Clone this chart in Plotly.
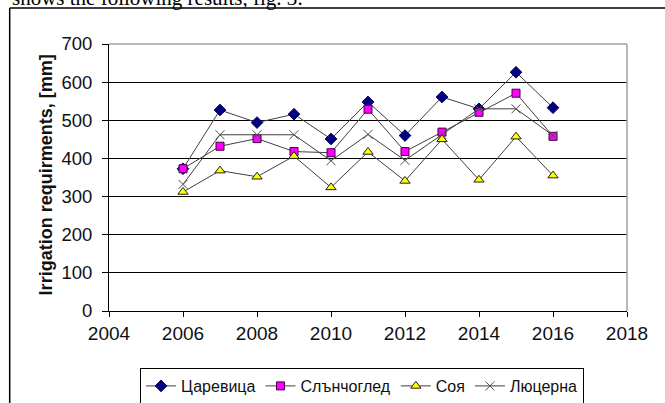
import plotly.graph_objects as go

years = [2006, 2007, 2008, 2009, 2010, 2011, 2012, 2013, 2014, 2015, 2016]
tsarevitsa = [373, 527, 494, 516, 451, 548, 460, 561, 530, 626, 533]
slanchogled = [373, 432, 452, 418, 415, 529, 418, 469, 521, 571, 458]
soya = [312, 368, 352, 406, 324, 417, 341, 450, 344, 457, 355]
lyutserna = [332, 462, 462, 462, 394, 463, 395, 462, 530, 530, 460]

x_ticks = [2004, 2006, 2008, 2010, 2012, 2014, 2016, 2018]
y_ticks = [0, 100, 200, 300, 400, 500, 600, 700]

W, H = 665, 403
L, R, T, B = 108.5, 627.5, 44, 311.5


def px(xp):
    return (xp - L) / (R - L)


def py(yp):
    return (B - yp) / (B - T)


line_col = "#404040"
fig = go.Figure()
fig.add_trace(go.Scatter(
    x=years, y=tsarevitsa, name="Царевица", mode="lines+markers",
    line=dict(color=line_col, width=1),
    marker=dict(symbol="diamond", size=9, color="#000080",
                line=dict(color="#000060", width=1))))
fig.add_trace(go.Scatter(
    x=years, y=slanchogled, name="Слънчоглед", mode="lines+markers",
    line=dict(color=line_col, width=1),
    marker=dict(symbol="square", size=8, color="#FF00FF",
                line=dict(color="#400040", width=1))))
fig.add_trace(go.Scatter(
    x=years, y=soya, name="Соя", mode="lines+markers",
    line=dict(color=line_col, width=1),
    marker=dict(symbol="triangle-up", size=9, color="#FFFF00",
                line=dict(color="#202020", width=1))))
fig.add_trace(go.Scatter(
    x=years, y=lyutserna, name="Люцерна", mode="lines+markers",
    line=dict(color=line_col, width=1),
    marker=dict(symbol="x-thin", size=9, color="#505050",
                line=dict(color="#505050", width=1))))

fig.update_layout(
    width=W, height=H,
    margin=dict(l=L, r=W - R, t=T, b=H - B, pad=0, autoexpand=False),
    paper_bgcolor="white", plot_bgcolor="white",
    font=dict(family="Liberation Sans, Arial, sans-serif", size=19, color="#111"),
    showlegend=True,
    legend=dict(orientation="h", xref="container", yref="container",
                x=362 / W, xanchor="center", y=1 - 368 / H, yanchor="top",
                bordercolor="black", borderwidth=1, font=dict(size=16),
                itemwidth=30, tracegroupgap=0),
    xaxis=dict(range=[2004, 2018], tickvals=x_ticks, ticks="outside", ticklen=5,
               tickcolor="black", showline=True, linecolor="black", linewidth=1,
               showgrid=False, zeroline=False, tickfont=dict(size=19), automargin=False),
    yaxis=dict(range=[0, 700], tickvals=y_ticks, ticks="outside", ticklen=6,
               tickcolor="black", showline=True, linecolor="black", linewidth=1,
               showgrid=True, gridcolor="black", gridwidth=1, zeroline=False,
               tickfont=dict(size=18.5), automargin=False, ticklabelstandoff=6),
    shapes=[
        dict(type="line", xref="paper", yref="paper", x0=0, x1=1, y0=1, y1=1,
             line=dict(color="#a0a0a0", width=1.5)),
        dict(type="line", xref="paper", yref="paper", x0=1, x1=1, y0=0, y1=1,
             line=dict(color="#a0a0a0", width=1.5)),
        dict(type="line", xref="paper", yref="paper", x0=px(9), x1=px(666), y0=py(8), y1=py(8),
             line=dict(color="black", width=1.5)),
        dict(type="line", xref="paper", yref="paper", x0=px(9), x1=px(9), y0=py(8), y1=py(404),
             line=dict(color="black", width=1.5)),
    ],
    annotations=[
        dict(text="<b>Irrigation requirments, [mm]</b>", textangle=-90,
             xref="paper", yref="paper", x=px(45), y=py(175), xanchor="center", yanchor="middle",
             showarrow=False, font=dict(size=18, color="#111")),
        dict(text="shows the following results, fig. 3:", xref="paper", yref="paper",
             x=px(9), y=py(12), xanchor="left", yanchor="bottom", showarrow=False,
             font=dict(family="Liberation Serif, Times New Roman, serif", size=21, color="black")),
    ],
)

fig.write_html("out.html", config={"displayModeBar": False},
               post_script="document.body.style.margin='0';")
